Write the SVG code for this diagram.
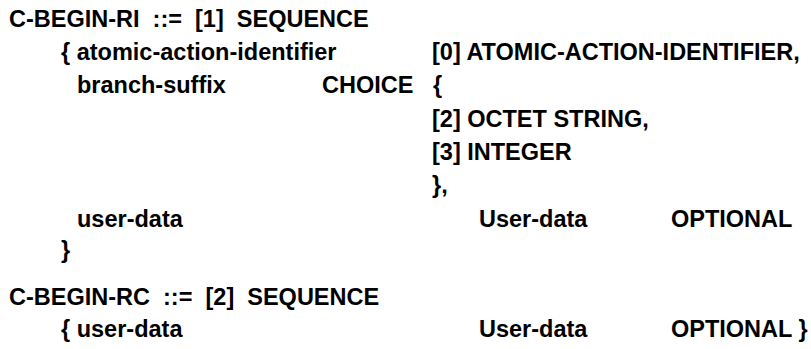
<svg xmlns="http://www.w3.org/2000/svg" width="811" height="349" viewBox="0 0 811 349">
<style>
text{font-family:"Liberation Sans",Arial,sans-serif;font-weight:bold;font-size:23.5px;fill:#000;white-space:pre}
</style>
<rect width="811" height="349" fill="#fff"/>
<g id="c-begin-ri">
<text x="9" y="27" xml:space="preserve">C-BEGIN-RI  ::=  [1]  SEQUENCE</text>
<text x="61" y="60">{ atomic-action-identifier</text>
<text x="432" y="60">[0] ATOMIC-ACTION-IDENTIFIER,</text>
<text x="77" y="93">branch-suffix</text>
<text x="322" y="93">CHOICE</text>
<text x="433" y="93">{</text>
<text x="432" y="127">[2] OCTET STRING,</text>
<text x="432" y="160">[3] INTEGER</text>
<text x="432" y="193">},</text>
<text x="77" y="227">user-data</text>
<text x="479" y="227">User-data</text>
<text x="671" y="227">OPTIONAL</text>
<text x="61" y="258">}</text>
</g>
<g id="c-begin-rc">
<text x="9" y="305" xml:space="preserve">C-BEGIN-RC  ::=  [2]  SEQUENCE</text>
<text x="61" y="337">{ user-data</text>
<text x="479" y="337">User-data</text>
<text x="671" y="337" xml:space="preserve">OPTIONAL }</text>
</g>
</svg>
